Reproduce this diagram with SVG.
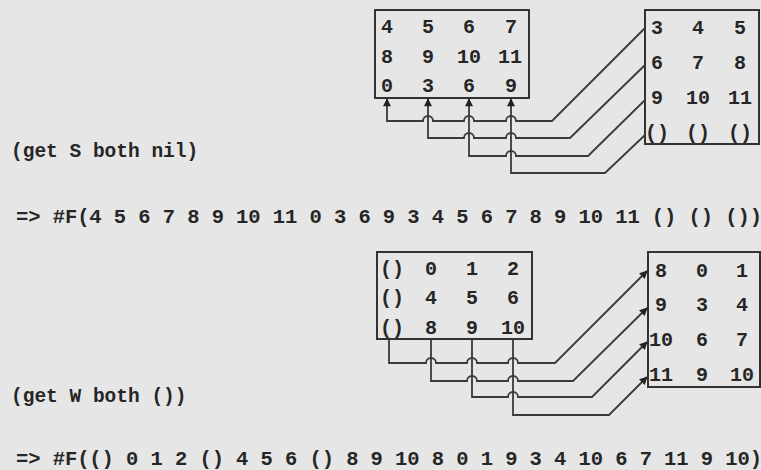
<svg xmlns="http://www.w3.org/2000/svg" width="761" height="470" viewBox="0 0 761 470">
  <style>
    text { font-family: "Liberation Mono", "Courier New", monospace; font-weight: bold; font-size: 20px; fill: #262626; }
    .c { text-anchor: middle; }
    .lbl { font-size: 19.5px; }
    .res { font-size: 20.5px; }
    .box { fill: none; stroke: #333; stroke-width: 2; }
    .wire { fill: none; stroke: #3a3a3a; stroke-width: 1.8; }
  </style>
  <defs>
    <marker id="arr" viewBox="0 0 10 10" refX="9" refY="5" markerWidth="11" markerHeight="8" markerUnits="userSpaceOnUse" orient="auto-start-reverse">
      <path d="M0 0 L10 5 L0 10 Z" fill="#222"/>
    </marker>
  </defs>
  <rect x="0" y="0" width="761" height="470" fill="#e6e6e6"/>

  <!-- Top section -->
  <g id="S-source">
    <rect class="box" x="375" y="10" width="154" height="88"/>
    <text class="c" x="387" y="33">4</text><text class="c" x="428" y="33">5</text><text class="c" x="469" y="33">6</text><text class="c" x="511" y="33">7</text>
    <text class="c" x="387" y="63">8</text><text class="c" x="428" y="63">9</text><text class="c" x="469" y="63">10</text><text class="c" x="510" y="63">11</text>
    <text class="c" x="387" y="92">0</text><text class="c" x="428" y="92">3</text><text class="c" x="469" y="92">6</text><text class="c" x="511" y="92">9</text>
  </g>
  <g id="S-target">
    <rect class="box" x="645" y="10" width="114" height="134"/>
    <text class="c" x="657" y="34">3</text><text class="c" x="698" y="34">4</text><text class="c" x="740" y="34">5</text>
    <text class="c" x="657" y="69">6</text><text class="c" x="698" y="69">7</text><text class="c" x="740" y="69">8</text>
    <text class="c" x="657" y="104">9</text><text class="c" x="698" y="104">10</text><text class="c" x="740" y="104">11</text>
    <text class="c" x="657" y="139">()</text><text class="c" x="698" y="139">()</text><text class="c" x="740" y="139">()</text>
  </g>
  <g id="S-label">
    <text class="lbl" x="11" y="157">(get S both nil)</text>
  </g>
  <g id="S-result">
    <text class="res" x="16" y="223" textLength="746" lengthAdjust="spacing">=&gt; #F(4 5 6 7 8 9 10 11 0 3 6 9 3 4 5 6 7 8 9 10 11 () () ())</text>
  </g>

  <!-- Bottom section -->
  <g id="W-source">
    <rect class="box" x="377" y="252" width="155" height="87"/>
    <text class="c" x="392" y="275">()</text><text class="c" x="431" y="275">0</text><text class="c" x="472" y="275">1</text><text class="c" x="513" y="275">2</text>
    <text class="c" x="392" y="304">()</text><text class="c" x="431" y="304">4</text><text class="c" x="472" y="304">5</text><text class="c" x="513" y="304">6</text>
    <text class="c" x="392" y="334">()</text><text class="c" x="431" y="334">8</text><text class="c" x="472" y="334">9</text><text class="c" x="513" y="334">10</text>
  </g>
  <g id="W-target">
    <rect class="box" x="648" y="252" width="112" height="135"/>
    <text class="c" x="661" y="277">8</text><text class="c" x="702" y="277">0</text><text class="c" x="742" y="277">1</text>
    <text class="c" x="661" y="311">9</text><text class="c" x="702" y="311">3</text><text class="c" x="742" y="311">4</text>
    <text class="c" x="661" y="346">10</text><text class="c" x="702" y="346">6</text><text class="c" x="742" y="346">7</text>
    <text class="c" x="661" y="381">11</text><text class="c" x="702" y="381">9</text><text class="c" x="742" y="381">10</text>
  </g>
  <g id="W-label">
    <text class="lbl" x="11" y="402">(get W both ())</text>
  </g>
  <g id="W-result">
    <text class="res" x="16" y="465" textLength="746" lengthAdjust="spacing">=&gt; #F(() 0 1 2 () 4 5 6 () 8 9 10 8 0 1 9 3 4 10 6 7 11 9 10)</text>
  </g>

  <g id="connectors">
    <!-- top: arrows point up into source box -->
    <path class="wire" marker-start="url(#arr)" d="M387 99 V121 H423 a5 5 0 0 1 10 0 H464 a5 5 0 0 1 10 0 H506 a5 5 0 0 1 10 0 H552 L645 28"/>
    <path class="wire" marker-start="url(#arr)" d="M428 99 V138 H464 a5 5 0 0 1 10 0 H506 a5 5 0 0 1 10 0 H570 L645 65"/>
    <path class="wire" marker-start="url(#arr)" d="M469 99 V156 H506 a5 5 0 0 1 10 0 H588 L645 100"/>
    <path class="wire" marker-start="url(#arr)" d="M511 99 V173 H605 L645 135"/>
    <!-- bottom: arrows point into target box -->
    <path class="wire" marker-end="url(#arr)" d="M389 339 V363 H426 a5 5 0 0 1 10 0 H467 a5 5 0 0 1 10 0 H508 a5 5 0 0 1 10 0 H555 L647 271"/>
    <path class="wire" marker-end="url(#arr)" d="M431 339 V381 H467 a5 5 0 0 1 10 0 H508 a5 5 0 0 1 10 0 H573 L647 308"/>
    <path class="wire" marker-end="url(#arr)" d="M472 339 V397 H508 a5 5 0 0 1 10 0 H592 L647 342"/>
    <path class="wire" marker-end="url(#arr)" d="M513 339 V415 H609 L647 377"/>
  </g>
</svg>
